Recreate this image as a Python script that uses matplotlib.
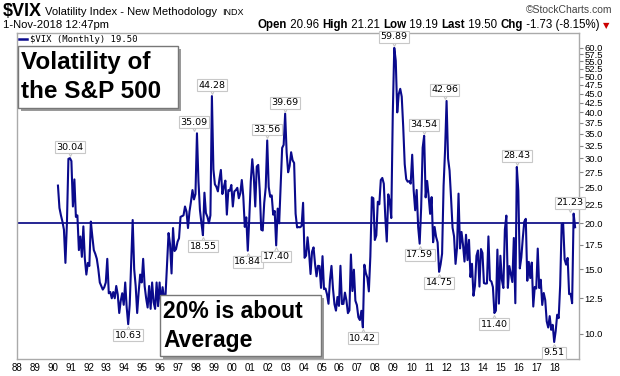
import matplotlib
matplotlib.use('Agg')
import matplotlib.pyplot as plt
import numpy as np
from matplotlib.transforms import offset_copy
from matplotlib.patches import Rectangle
from matplotlib.lines import Line2D

plt.rcParams['font.family'] = ['Liberation Sans', 'DejaVu Sans']

# ---------------- data (monthly closes, Jan 1990 .. Nov 2018) ----------------
start_year = 1990
y1990 = [25.3, 22.0, 21.0, 20.2, 19.2, 15.6, 20.0, 29.9, 30.04, 29.5, 22.2, 26.3]
y1991 = [20.8, 21.0, 16.9, 18.4, 16.2, 19.6, 16.0, 14.5, 15.6, 15.3, 20.2, 18.4]
y1992 = [16.9, 16.5, 16.0, 15.0, 13.8, 13.5, 13.2, 13.4, 13.8, 16.0, 12.9, 13.0]
y1993 = [12.5, 13.0, 12.5, 13.5, 12.8, 11.4, 12.3, 12.9, 12.0, 13.8, 11.8, 10.63]
y1994 = [12.0, 15.5, 20.4, 15.0, 13.5, 11.4, 13.0, 14.5, 13.8, 16.0, 13.5, 12.5]
y1995 = [11.8, 13.5, 11.7, 13.8, 12.2, 11.7, 13.8, 11.9, 13.8, 12.0, 13.4, 12.5]
y1996 = [12.8, 15.6, 18.8, 17.5, 14.6, 19.4, 16.8, 17.0, 17.8, 18.2, 20.8, 20.9]
y1997 = [21.0, 22.2, 21.5, 19.4, 21.5, 22.9, 24.6, 23.2, 24.0, 35.09, 26.0, 21.7]
y1998 = [20.0, 18.55, 24.2, 21.3, 20.8, 20.0, 21.0, 44.28, 28.0, 25.5, 25.1, 24.4]
y1999 = [26.3, 27.9, 24.0, 25.1, 26.1, 21.1, 24.6, 24.5, 25.4, 22.2, 24.4, 24.6]
y2000 = [24.95, 23.37, 24.11, 26.20, 23.65, 19.54, 20.74, 16.84, 20.57, 25.95, 29.84, 26.85]
y2001 = [22.2, 28.5, 28.8, 24.5, 19.2, 19.1, 22.7, 25.0, 33.56, 25.1, 23.6, 23.8]
y2002 = [21.09, 21.59, 17.40, 21.91, 19.98, 25.40, 32.03, 32.64, 39.69, 31.10, 27.50, 28.62]
y2003 = [31.17, 29.63, 29.15, 21.21, 19.47, 19.52, 19.49, 19.65, 22.72, 16.10, 16.32, 18.31]
y2004 = [16.63, 14.55, 16.74, 17.19, 15.50, 14.34, 15.32, 15.29, 13.34, 16.27, 13.24, 13.29]
y2005 = [12.82, 12.08, 14.02, 15.31, 13.29, 12.04, 11.57, 12.60, 11.92, 15.32, 12.06, 12.07]
y2006 = [12.95, 12.34, 11.39, 11.59, 16.44, 13.08, 14.95, 12.31, 11.98, 11.10, 10.91, 11.56]
y2007 = [10.42, 15.42, 14.64, 14.22, 13.05, 16.23, 23.52, 23.38, 18.00, 18.53, 22.87, 22.50]
y2008 = [26.20, 26.54, 25.61, 20.79, 17.83, 23.95, 22.94, 20.65, 39.39, 59.89, 55.28, 40.00]
y2009 = [44.84, 46.35, 44.14, 36.50, 28.92, 26.35, 25.92, 26.01, 25.61, 30.69, 24.51, 21.68]
y2010 = [24.62, 19.50, 17.59, 22.05, 32.07, 34.54, 23.50, 26.05, 23.70, 21.20, 23.54, 17.75]
y2011 = [19.53, 18.35, 17.74, 14.75, 15.45, 16.52, 25.25, 31.62, 42.96, 29.96, 27.80, 23.40]
y2012 = [19.44, 18.43, 15.50, 17.15, 24.06, 17.08, 18.93, 17.47, 15.73, 18.60, 15.87, 18.02]
y2013 = [14.28, 15.51, 12.70, 13.52, 16.30, 16.86, 13.45, 17.01, 16.60, 13.75, 13.70, 13.72]
y2014 = [18.41, 14.00, 13.88, 13.41, 11.40, 11.57, 16.95, 12.09, 16.31, 14.03, 13.33, 19.20]
y2015 = [20.97, 13.34, 15.29, 14.55, 13.84, 18.23, 12.12, 28.43, 24.50, 15.07, 16.13, 18.21]
y2016 = [20.20, 20.55, 13.95, 15.70, 14.19, 15.63, 11.87, 13.42, 13.29, 17.06, 13.33, 14.04]
y2017 = [11.99, 12.92, 12.37, 10.82, 10.41, 11.18, 10.26, 10.59, 9.51, 10.18, 11.28, 11.04]
y2018 = [13.54, 19.85, 19.97, 15.93, 15.43, 16.09, 12.83, 12.86, 12.12, 21.23, 19.50]

peak_months = ['1990-09', '1997-10', '1998-08', '2001-09', '2002-09',
               '2008-10', '2010-06', '2011-09', '2015-08', '2018-10']
trough_months = ['1993-12', '1998-02', '2000-08', '2002-03', '2007-01',
                 '2010-03', '2011-04', '2014-05', '2017-09']

y_ticks = [10.0, 12.5, 15.0, 17.5, 20.0, 22.5, 25.0, 27.5, 30.0, 32.5, 35.0, 37.5,
           40.0, 42.5, 45.0, 47.5, 50.0, 52.5, 55.0, 57.5, 60.0]
x_tick_labels = ['88', '89', '90', '91', '92', '93', '94', '95', '96', '97', '98', '99',
                 '00', '01', '02', '03', '04', '05', '06', '07', '08', '09', '10', '11',
                 '12', '13', '14', '15', '16', '17', '18']
average_level = 20.0

vix = np.array(y1990 + y1991 + y1992 + y1993 + y1994 + y1995 + y1996 + y1997 + y1998 +
               y1999 + y2000 + y2001 + y2002 + y2003 + y2004 + y2005 + y2006 + y2007 +
               y2008 + y2009 + y2010 + y2011 + y2012 + y2013 + y2014 + y2015 + y2016 +
               y2017 + y2018)
t = start_year + np.arange(len(vix)) / 12.0

def month_index(s):
    yy, mm = s.split('-')
    return (int(yy) - start_year) * 12 + int(mm) - 1

# ---------------- figure ----------------
W, H = 620, 376
fig = plt.figure(figsize=(W / 100, H / 100), dpi=100)
fig.patch.set_facecolor('white')

L, R, T, B = 16.7, 579.0, 33.3, 359.0
ax = fig.add_axes([L / W, 1 - B / H, (R - L) / W, (B - T) / H])
ax.set_yscale('log')
ax.set_ylim(8.55, 65.6)
ax.set_xlim(1987.98, 2019.05)

line_col = '#0a0a8c'
ax.plot(t, vix, color=line_col, lw=1.5, solid_joinstyle='round', zorder=3)
ax.axhline(average_level, color='#000080', lw=1.2, zorder=2)

for s in ax.spines.values():
    s.set_color('#aaaaaa')
    s.set_linewidth(1.0)

ax.yaxis.tick_right()
ax.set_yticks(y_ticks)
ax.set_yticklabels([f'{v:.1f}' for v in y_ticks])
ax.yaxis.set_minor_locator(matplotlib.ticker.NullLocator())
ax.tick_params(axis='y', which='major', direction='out', length=3, width=0.8,
               color='#888888', pad=1, labelsize=6.8, labelcolor='#000000')

label_years = [(1900 + int(s) if int(s) > 50 else 2000 + int(s)) for s in x_tick_labels]
ax.set_xticks([yv - 0.3 for yv in label_years])
ax.set_xticklabels(x_tick_labels)
ax.tick_params(axis='x', length=0, pad=3, labelsize=7, labelcolor='#000000')

# value call-outs
def callout(idx, up, dx=0):
    xv, yv = t[idx], vix[idx]
    off = 11 if up else -11
    trm = offset_copy(ax.transData, fig=fig, x=dx, y=(5 if up else -5), units='dots')
    ax.plot([xv], [yv], marker='v' if up else '^', ms=5, mfc='white', mec='#c8c8c8',
            mew=0.8, transform=trm, zorder=4, clip_on=False)
    ax.annotate(f'{yv:.2f}', xy=(xv, yv), xytext=(dx, off), textcoords='offset pixels',
                ha='center', va='center', fontsize=6.8, family=['DejaVu Sans'],
                bbox=dict(boxstyle='square,pad=0.15', fc='white', ec='#c8c8c8', lw=0.8),
                zorder=5, annotation_clip=False)

peak_dx = {'1997-10': -3, '2011-09': -2, '2018-10': -4}
for m in peak_months:
    callout(month_index(m), True, peak_dx.get(m, 0))
for m in trough_months:
    callout(month_index(m), False, 0)

# ---------------- header ----------------
def fx(x):
    return x / W

def fy(y):
    return 1 - y / H

fig.text(fx(3), fy(16), '$VIX', fontsize=13, fontweight='bold', va='baseline')
fig.text(fx(45), fy(15), 'Volatility Index - New Methodology', fontsize=8.1, va='baseline')
fig.text(fx(222), fy(15), 'INDX', fontsize=6.5, va='baseline')
fig.text(fx(612), fy(13), '\u00a9StockCharts.com', fontsize=7.5, va='baseline', ha='right',
         color='#444444')
fig.text(fx(3), fy(28), '1-Nov-2018 12:47pm', fontsize=8.1, va='baseline')

pieces = [('Open', True), (' 20.96 ', False), ('High', True), (' 21.21 ', False),
          ('Low', True), (' 19.19 ', False), ('Last', True), (' 19.50 ', False),
          ('Chg', True), (' -1.73 (-8.15%) ', False)]
renderer = fig.canvas.get_renderer()
texts = []
for s, b in pieces:
    tt = fig.text(0, fy(28), s, fontsize=8.3, fontweight='bold' if b else 'normal',
                  va='baseline')
    texts.append(tt)
tri = fig.text(0, fy(28), '\u25bc', fontsize=6, color='#cc0000', va='baseline',
               family=['DejaVu Sans'])
widths = [tt.get_window_extent(renderer).width for tt in texts]
trw = tri.get_window_extent(renderer).width
x0 = 609 - trw - sum(widths)
for tt, w in zip(texts, widths):
    tt.set_x(fx(x0))
    x0 += w
tri.set_x(fx(x0))

# legend
fig.add_artist(Line2D([fx(19), fx(27)], [fy(39), fy(39)], color=line_col, lw=1.8))
fig.text(fx(30), fy(39), '$VIX (Monthly) 19.50', fontsize=6.4, va='center',
         family=['DejaVu Sans Mono'])

# ---------------- annotation boxes ----------------
def note_box(x0, y0, x1, y1, lines, size):
    sh = Rectangle((fx(x0 + 3), fy(y1 + 3)), (x1 - x0) / W, (y1 - y0) / H,
                   transform=fig.transFigure, fc='#9a9a9a', ec='none', zorder=10)
    bx = Rectangle((fx(x0), fy(y1)), (x1 - x0) / W, (y1 - y0) / H,
                   transform=fig.transFigure, fc='white', ec='#777777', lw=1.0, zorder=11)
    fig.add_artist(sh)
    fig.add_artist(bx)
    for txt, yc in lines:
        fig.text(fx(x0 + 3), fy(yc), txt, fontsize=size, fontweight='bold',
                 va='center', ha='left', zorder=12)

note_box(18, 46, 178, 108, [('Volatility of', 63), ('the S&P 500', 91)], 17.5)
note_box(160, 295, 321, 356, [('20% is about', 312), ('Average', 340)], 16.5)

fig.savefig('out.png', dpi=100, facecolor='white')
